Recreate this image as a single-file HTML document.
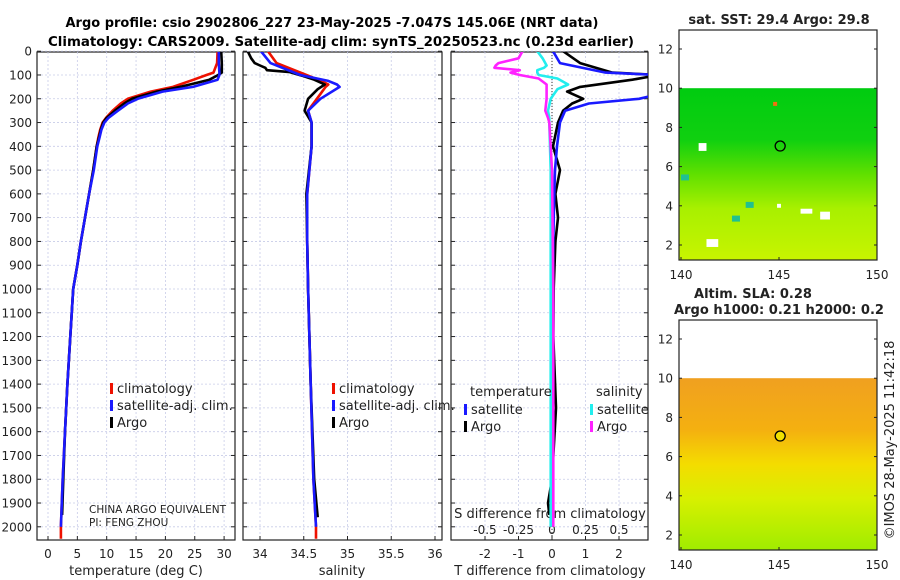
<!DOCTYPE html>
<html><head><meta charset="utf-8"><style>
body{margin:0;background:#fff;}
svg{display:block;font-family:"DejaVu Sans","Liberation Sans",sans-serif;}
</style></head><body>
<svg id="fig" width="900" height="580" viewBox="0 0 900 580" xmlns="http://www.w3.org/2000/svg">
<defs>
<clipPath id="c1"><rect x="37" y="52" width="198" height="488"/></clipPath>
<clipPath id="c2"><rect x="243" y="52" width="199" height="488"/></clipPath>
<clipPath id="c3"><rect x="451" y="52" width="197" height="488"/></clipPath>
<linearGradient id="sst" x1="0" y1="0" x2="0" y2="1">
<stop offset="0" stop-color="#00cc10"/><stop offset="0.3" stop-color="#10d010"/><stop offset="0.5" stop-color="#60e000"/><stop offset="0.7" stop-color="#a8f000"/><stop offset="1" stop-color="#c8f400"/></linearGradient>
<linearGradient id="sla" x1="0" y1="0" x2="0" y2="1">
<stop offset="0" stop-color="#f0a020"/><stop offset="0.3" stop-color="#f4b010"/><stop offset="0.5" stop-color="#f4dc00"/><stop offset="0.7" stop-color="#d8f000"/><stop offset="1" stop-color="#a0ec00"/></linearGradient>
</defs>
<text x="332" y="27" font-size="13.5" font-weight="bold" text-anchor="middle" textLength="533" lengthAdjust="spacingAndGlyphs">Argo profile: csio 2902806_227 23-May-2025 -7.047S 145.06E (NRT data)</text>
<text x="341" y="46" font-size="13.5" font-weight="bold" text-anchor="middle" textLength="586" lengthAdjust="spacingAndGlyphs">Climatology: CARS2009. Satellite-adj clim: synTS_20250523.nc (0.23d earlier)</text>
<g id="g"></g>
</svg>
<script>
// ---- data ----
const depthT = [0,50,90,100,120,150,170,200,220,250,280,300,330,360,400,500,600,700,800,900,1000,1200,1400,1600,1800,1950];
const tempArgo = [29.5,29.6,29.6,29.0,27.5,22.5,18.5,14.3,13.0,11.4,10.0,9.4,9.0,8.7,8.3,7.7,7.0,6.3,5.6,5.0,4.3,3.8,3.3,2.9,2.6,2.4];
const depthC = [0,50,90,100,120,150,170,200,220,250,280,300,330,360,400,500,600,700,800,900,1000,1200,1400,1600,1800,2000,2050];
const tempClim = [28.9,28.8,28.2,27.0,24.8,21.3,17.5,13.6,12.4,11.0,9.9,9.3,8.9,8.6,8.3,7.7,7.0,6.3,5.6,5.0,4.3,3.8,3.3,2.9,2.5,2.2,2.2];
const tempSat  = [29.1,29.1,29.2,29.2,28.9,24.7,19.5,15.3,13.6,11.9,10.3,9.6,9.1,8.8,8.4,7.8,7.0,6.3,5.6,5.0,4.3,3.8,3.3,2.9,2.5,2.2];
const depthS = [0,30,50,60,70,80,88,103,120,140,160,200,250,300,400,600,800,1000,1400,1800,1960];
const salArgo = [33.86,33.9,33.94,34.0,34.06,34.08,34.34,34.48,34.62,34.74,34.66,34.55,34.51,34.59,34.59,34.53,34.54,34.55,34.58,34.62,34.66];
const depthSC = [0,50,100,125,140,150,200,250,300,400,600,800,1000,1400,1800,2000,2050];
const salClim = [34.09,34.19,34.53,34.70,34.78,34.75,34.65,34.55,34.59,34.59,34.54,34.54,34.55,34.58,34.61,34.64,34.64];
const salSat  = [34.01,34.12,34.46,34.78,34.88,34.91,34.69,34.55,34.59,34.59,34.54,34.54,34.55,34.58,34.61,34.64];
const depthD = [0,50,90,100,120,150,170,200,220,250,300,400,500,600,700,800,1000,1200,1500,1800,1900,1950];
const dTArgo = [0.33,0.84,1.8,3.2,2.4,0.84,0.45,0.93,0.6,0.33,0.18,0.03,0.24,0.1,0.18,0.1,0.05,0.04,0.12,0.0,-0.12,-0.08];
const dTSat  = [0.03,0.24,1.6,3.2,3.6,3.8,3.5,2.6,1.1,0.39,0.24,0.15,0.09,0.07,0.05,0.04,0.03,0.02,0.02,0.0,-0.02,0.0];
const depthDS = [0,30,50,60,70,80,90,100,115,140,160,200,250,280,300,500,1000,1500,2000];
const dSSat  = [-0.11,-0.07,-0.05,-0.04,-0.06,-0.11,-0.11,-0.10,0.04,0.12,0.04,-0.01,-0.03,-0.02,-0.02,-0.01,-0.01,-0.01,-0.01];
const dSArgo = [-0.22,-0.25,-0.40,-0.42,-0.43,-0.24,-0.31,-0.24,-0.10,-0.04,-0.04,-0.04,-0.05,-0.03,-0.02,0.0,0.01,0.01,0.01];
const depthTicks = [0,100,200,300,400,500,600,700,800,900,1000,1100,1200,1300,1400,1500,1600,1700,1800,1900,2000];
const tTicks = [0,5,10,15,20,25,30];
const sTicks = [34,34.5,35,35.5,36];
const sTickLbl = ["34","34.5","35","35.5","36"];
const dtTicks = [-2,-1,0,1,2];
const dsTicks = [-0.5,-0.25,0,0.25,0.5];
const dsTickLbl = ["-0.5","-0.25","0","0.25","0.5"];
const latTicks = [2,4,6,8,10,12];
const lonTicks = [140,145,150];
// ---- scales ----
const yD = d => 51.2 + d*0.2378;
const xT = t => 48 + t*5.87;
const xS = s => 260 + (s-34)*87.5;
const xDT = v => 552 + v*33.5;
const xDS = v => 552 + v*134;
const NS="http://www.w3.org/2000/svg";
const G=document.getElementById('g');
function mk(tag,at,parent){const e=document.createElementNS(NS,tag);for(const k in at)e.setAttribute(k,at[k]);(parent||G).appendChild(e);return e;}
function txt(x,y,s,fs,anchor,parent){const e=mk('text',{x:x,y:y,'font-size':fs,'text-anchor':anchor||'start',fill:'#222'},parent);e.textContent=s;return e;}
const panels=[[37,235,'c1'],[243,442,'c2'],[451,648,'c3']];
panels.forEach((p,i)=>{
  const fr=mk('rect',{x:p[0],y:52,width:p[1]-p[0],height:488,fill:'none',stroke:'#222','stroke-width':1.2});
  
  
  depthTicks.forEach(d=>{
    mk('line',{x1:p[0],x2:p[1],y1:yD(d),y2:yD(d),stroke:'#c8cce8','stroke-width':0.8,'stroke-dasharray':'2,2'});
    mk('line',{x1:p[0],x2:p[0]+4,y1:yD(d),y2:yD(d),stroke:'#222'});
    mk('line',{x1:p[1]-4,x2:p[1],y1:yD(d),y2:yD(d),stroke:'#222'});
  });
});
depthTicks.forEach(d=>{const t=txt(32,yD(d)+4.5,String(d),12,'end');
  
  });
function vgrid(xs,fx){xs.forEach(v=>{mk('line',{x1:fx(v),x2:fx(v),y1:52,y2:540,stroke:'#c8cce8','stroke-width':0.8,'stroke-dasharray':'2,2'});
  mk('line',{x1:fx(v),x2:fx(v),y1:536,y2:540,stroke:'#222'});});}
vgrid(tTicks,xT);vgrid(sTicks,xS);vgrid(dtTicks,xDT);
tTicks.forEach(v=>{const t=txt(xT(v),558,String(v),12,'middle');});
sTicks.forEach((v,i)=>{const t=txt(xS(v),558,sTickLbl[i],12,'middle');});
dtTicks.forEach(v=>{const t=txt(xDT(v),558,String(v),12,'middle');});
dsTicks.forEach((v,i)=>{const t=txt(xDS(v),534,dsTickLbl[i],12,'middle');});
let a;
a=txt(136,575,'temperature (deg C)',13,'middle');
a=txt(342,575,'salinity',13,'middle');
a=txt(550,575,'T difference from climatology',13,'middle');
a=txt(550,518,'S difference from climatology',13,'middle');
mk('line',{x1:xDT(0),x2:xDT(0),y1:52,y2:540,stroke:'#333','stroke-dasharray':'1,2'});
function line(xs,ds,fx,color,clip,name){
  const pts=xs.map((v,i)=>fx(v).toFixed(1)+','+yD(ds[i]).toFixed(1)).join(' ');
  const e=mk('polyline',{points:pts,fill:'none',stroke:color,'stroke-width':2.6,'stroke-linejoin':'round','clip-path':'url(#'+clip+')'});
  
  
}
line(tempClim,depthC,xT,'#ee1100','c1','temp-climatology-line');
line(tempArgo,depthT,xT,'#000','c1','temp-argo-line');
line(tempSat,depthC.slice(0,tempSat.length),xT,'#1a1aff','c1','temp-satellite-line');
line(salClim,depthSC,xS,'#ee1100','c2','sal-climatology-line');
line(salArgo,depthS,xS,'#000','c2','sal-argo-line');
line(salSat,depthSC.slice(0,salSat.length),xS,'#1a1aff','c2','sal-satellite-line');
line(dTArgo,depthD,xDT,'#000','c3','tdiff-argo-line');
line(dTSat,depthD,xDT,'#1a1aff','c3','tdiff-satellite-line');
line(dSSat,depthDS,xDS,'#22eeee','c3','sdiff-satellite-line');
line(dSArgo,depthDS,xDS,'#ff22ff','c3','sdiff-argo-line');
function leg(x,y,color,label,name){
  mk('rect',{x:x,y:y-9,width:3,height:11,fill:color});
  const t=txt(x+7,y+1,label,13);
  
  
}
leg(110,392,'#ee1100','climatology','legend-temp-climatology');
leg(110,409,'#1a1aff','satellite-adj. clim.','legend-temp-satellite');
leg(110,426,'#000','Argo','legend-temp-argo');
leg(332,392,'#ee1100','climatology','legend-sal-climatology');
leg(332,409,'#1a1aff','satellite-adj. clim.','legend-sal-satellite');
leg(332,426,'#000','Argo','legend-sal-argo');
a=txt(470,396,'temperature',13);
a=txt(596,396,'salinity',13);
leg(464,413,'#1a1aff','satellite','legend-tdiff-satellite');
leg(464,430,'#000','Argo','legend-tdiff-argo');
leg(590,413,'#22eeee','satellite','legend-sdiff-satellite');
leg(590,430,'#ff22ff','Argo','legend-sdiff-argo');
a=txt(89,513,'CHINA ARGO EQUIVALENT',10.5);
a=txt(89,526,'PI: FENG ZHOU',10.5);
// ---- maps ----
function map(top,bottom,grad,title1,title2,nameBase,t1x){
  const L=679,R=877;
  const yL=v=>top+19+ (12-v)*19.6;
  const xL=v=>681+(v-140)*19.6;
  const fill=mk('rect',{x:L,y:yL(10),width:R-L,height:bottom-yL(10),fill:'url(#'+grad+')'});
  
  
  const fr=mk('rect',{x:L,y:top,width:R-L,height:bottom-top,fill:'none',stroke:'#222','stroke-width':1.2});
  
  
  latTicks.forEach(v=>{mk('line',{x1:L,x2:L+3,y1:yL(v),y2:yL(v),stroke:'#222'});mk('line',{x1:R-3,x2:R,y1:yL(v),y2:yL(v),stroke:'#222'});
    const t=txt(L-6,yL(v)+4.5,String(v),12,'end');});
  lonTicks.forEach(v=>{mk('line',{x1:xL(v),x2:xL(v),y1:bottom-3,y2:bottom,stroke:'#222'});
    const t=txt(xL(v),bottom+19,String(v),12,'middle');});
  const c=mk('circle',{cx:xL(145.06),cy:yL(7.05),r:5,fill:grad==='sla'?'#f0e000':'none',stroke:'#000','stroke-width':1.3});
  
  
  let t=txt(t1x,top-(title2?22:6),title1,13);t.setAttribute('font-weight','bold');t.setAttribute('text-anchor','middle');
  
  if(title2){t=txt(779,top-6,title2,13);t.setAttribute('font-weight','bold');t.setAttribute('text-anchor','middle');
  t.setAttribute('textLength','210');t.setAttribute('lengthAdjust','spacingAndGlyphs');
  }
  return {xL,yL};
}
const m1=map(30,260,'sst','sat. SST: 29.4 Argo: 29.8',null,'sst-map',779);
[[140.9,6.8,0.4,0.4],[141.3,1.9,0.6,0.4],[146.1,3.6,0.6,0.25],[147.1,3.3,0.5,0.4],[144.9,3.9,0.2,0.2]].forEach(r=>{
  mk('rect',{x:m1.xL(r[0]),y:m1.yL(r[1]+r[3]),width:r[2]*19.6,height:r[3]*19.6,fill:'#fff'});});
mk('rect',{x:m1.xL(144.7),y:m1.yL(9.3),width:4,height:4,fill:'#f07010'});
[[140,5.6],[142.6,3.5],[143.3,4.2]].forEach(r=>mk('rect',{x:m1.xL(r[0]),y:m1.yL(r[1]),width:8,height:6,fill:'#20c090'}));
map(320,550,'sla','Altim. SLA: 0.28','Argo h1000: 0.21 h2000: 0.2','sla-map',753);
a=txt(0,0,'©IMOS 28-May-2025 11:42:18',13,'middle');
a.setAttribute('transform','translate(894,440) rotate(-90)');

</script>
</body></html>
